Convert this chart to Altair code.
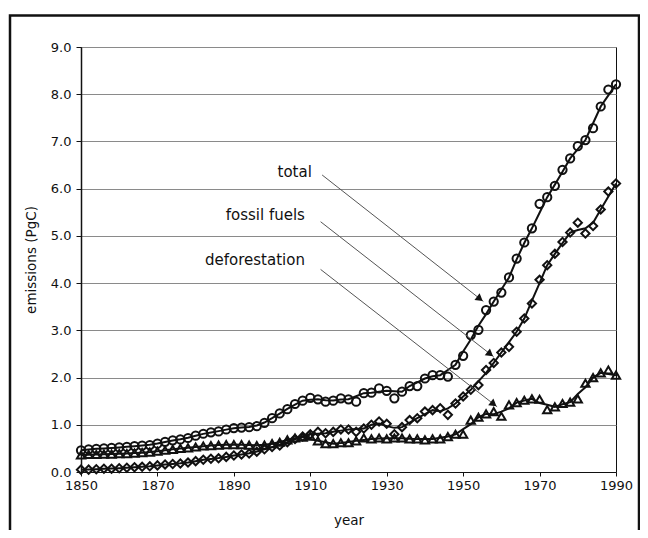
import altair as alt
import pandas as pd

# ---- data ----
years = list(range(1850, 1991, 2))
total = [0.46, 0.48, 0.49, 0.50, 0.51, 0.52, 0.53, 0.55, 0.56, 0.57,
         0.60, 0.64, 0.67, 0.69, 0.72, 0.77, 0.81, 0.84, 0.86, 0.90,
         0.93, 0.94, 0.95, 0.97, 1.04, 1.14, 1.24, 1.33, 1.44, 1.51,
         1.57, 1.54, 1.49, 1.51, 1.56, 1.54, 1.49, 1.67, 1.68, 1.77,
         1.72, 1.56, 1.70, 1.82, 1.82, 1.98, 2.05, 2.05, 2.02, 2.27,
         2.46, 2.90, 3.01, 3.43, 3.61, 3.80, 4.12, 4.52, 4.86, 5.16,
         5.68, 5.82, 6.06, 6.40, 6.64, 6.90, 7.03, 7.28, 7.74, 8.10,
         8.21]
fossil = [0.05, 0.05, 0.06, 0.07, 0.07, 0.08, 0.09, 0.10, 0.11, 0.12,
          0.14, 0.16, 0.17, 0.18, 0.20, 0.23, 0.26, 0.28, 0.29, 0.32,
          0.35, 0.37, 0.39, 0.43, 0.48, 0.53, 0.56, 0.63, 0.70, 0.75,
          0.80, 0.85, 0.82, 0.85, 0.90, 0.90, 0.85, 0.92, 1.00, 1.07,
          1.02, 0.80, 0.95, 1.10, 1.14, 1.28, 1.31, 1.35, 1.21, 1.45,
          1.60, 1.74, 1.84, 2.16, 2.31, 2.53, 2.65, 2.97, 3.25, 3.57,
          4.07, 4.38, 4.62, 4.87, 5.07, 5.28, 5.05, 5.21, 5.56, 5.94,
          6.11]
deforestation = [0.36, 0.37, 0.37, 0.38, 0.38, 0.39, 0.39, 0.40, 0.41, 0.42,
                 0.44, 0.46, 0.48, 0.50, 0.51, 0.53, 0.55, 0.56, 0.57, 0.58,
                 0.58, 0.58, 0.57, 0.56, 0.57, 0.60, 0.63, 0.68, 0.72, 0.74,
                 0.76, 0.66, 0.60, 0.60, 0.62, 0.62, 0.66, 0.72, 0.70, 0.72,
                 0.70, 0.72, 0.72, 0.70, 0.70, 0.68, 0.70, 0.70, 0.75, 0.80,
                 0.80, 1.10, 1.16, 1.23, 1.28, 1.18, 1.42, 1.47, 1.52, 1.55,
                 1.54, 1.32, 1.38, 1.45, 1.48, 1.55, 1.88, 2.00, 2.10, 2.16,
                 2.05]

series_names = ["total", "fossil fuels", "deforestation"]
series_shapes = ["circle", "diamond", "triangle-up"]

x_ticks = [1850, 1870, 1890, 1910, 1930, 1950, 1970, 1990]
y_ticks = [0, 1, 2, 3, 4, 5, 6, 7, 8, 9]

# annotations (labels and arrows, in data units)
ann_text = ["total", "fossil fuels", "deforestation"]
ann_x = [1910.4, 1908.6, 1908.6]
ann_y = [6.36, 5.44, 4.49]
arrow_x1 = [1913.1, 1912.7, 1912.7]
arrow_y1 = [6.29, 5.30, 4.29]
arrow_x2 = [1955.3, 1958.0, 1958.9]
arrow_y2 = [3.61, 2.44, 1.38]

# ---- tables ----
rows = []
for name, vals in zip(series_names, [total, fossil, deforestation]):
    for yr, v in zip(years, vals):
        rows.append({"year": yr, "value": v, "series": name})
df = pd.DataFrame(rows)

ann_df = pd.DataFrame({"text": ann_text, "x": ann_x, "y": ann_y})
arrow_df = pd.DataFrame({"x1": arrow_x1, "y1": arrow_y1, "x2": arrow_x2, "y2": arrow_y2})

FONT = "DejaVu Sans"
INK = "#111111"

xs = alt.Scale(domain=[1850, 1990], nice=False, zero=False)
ys = alt.Scale(domain=[0, 9], nice=False)

x_enc = alt.X("year:Q", scale=xs, title="year",
              axis=alt.Axis(values=x_ticks, format="d", grid=False, tickSize=4,
                            labelPadding=3, titlePadding=21, labelFlush=False,
                            labelOverlap=False))
y_enc = alt.Y("value:Q", scale=ys, title="emissions (PgC)",
              axis=alt.Axis(values=y_ticks, format=".1f", grid=True, tickSize=5,
                            labelPadding=5, titlePadding=12, labelFlush=False,
                            labelOverlap=False))

base = alt.Chart(df)

lines = base.transform_loess(
    "year", "value", groupby=["series"], bandwidth=0.06
).mark_line(color=INK, strokeWidth=2).encode(
    x=x_enc, y=y_enc, detail="series:N"
)

points = base.mark_point(filled=False, color=INK, strokeWidth=2, size=68, opacity=1).encode(
    x=alt.X("year:Q", scale=xs),
    y=alt.Y("value:Q", scale=ys),
    shape=alt.Shape("series:N", scale=alt.Scale(domain=series_names, range=series_shapes), legend=None),
)

arrow_lines = alt.Chart(arrow_df).mark_rule(color="#555555", strokeWidth=1).encode(
    x=alt.X("x1:Q", scale=xs), y=alt.Y("y1:Q", scale=ys),
    x2="x2:Q", y2="y2:Q",
)

arrow_heads = alt.Chart(arrow_df).mark_point(
    shape="triangle-right", filled=True, color=INK, size=70, angle=38,
    xOffset=-3.5, yOffset=-2.7, opacity=1
).encode(x=alt.X("x2:Q", scale=xs), y=alt.Y("y2:Q", scale=ys))

labels = alt.Chart(ann_df).mark_text(
    align="right", baseline="middle", font=FONT, fontSize=15, color=INK
).encode(x=alt.X("x:Q", scale=xs), y=alt.Y("y:Q", scale=ys), text="text:N")

frame = alt.Chart(pd.DataFrame({"a": [0]})).mark_rect(
    fillOpacity=0, stroke=INK, strokeWidth=2.5
).encode(x=alt.value(-71), x2=alt.value(558), y=alt.value(-31.5), y2=alt.value(540))

chart = alt.layer(lines, points, arrow_lines, arrow_heads, labels, frame).properties(
    width=535, height=425,
    autosize=alt.AutoSizeParams(type="none"),
    padding={"left": 73, "top": 39, "right": 24, "bottom": 58},
    background="white",
).configure_view(
    stroke=INK, strokeWidth=1
).configure_axis(
    labelFont=FONT, titleFont=FONT, labelFontSize=13, titleFontSize=13.5,
    labelColor=INK, titleColor=INK, titleFontWeight="normal",
    domainColor=INK, tickColor=INK, gridColor="#8a8a8a", gridWidth=1,
).configure_axisY(domainWidth=1.5)

chart.save("out.html", embed_options={"renderer": "svg", "actions": False})
